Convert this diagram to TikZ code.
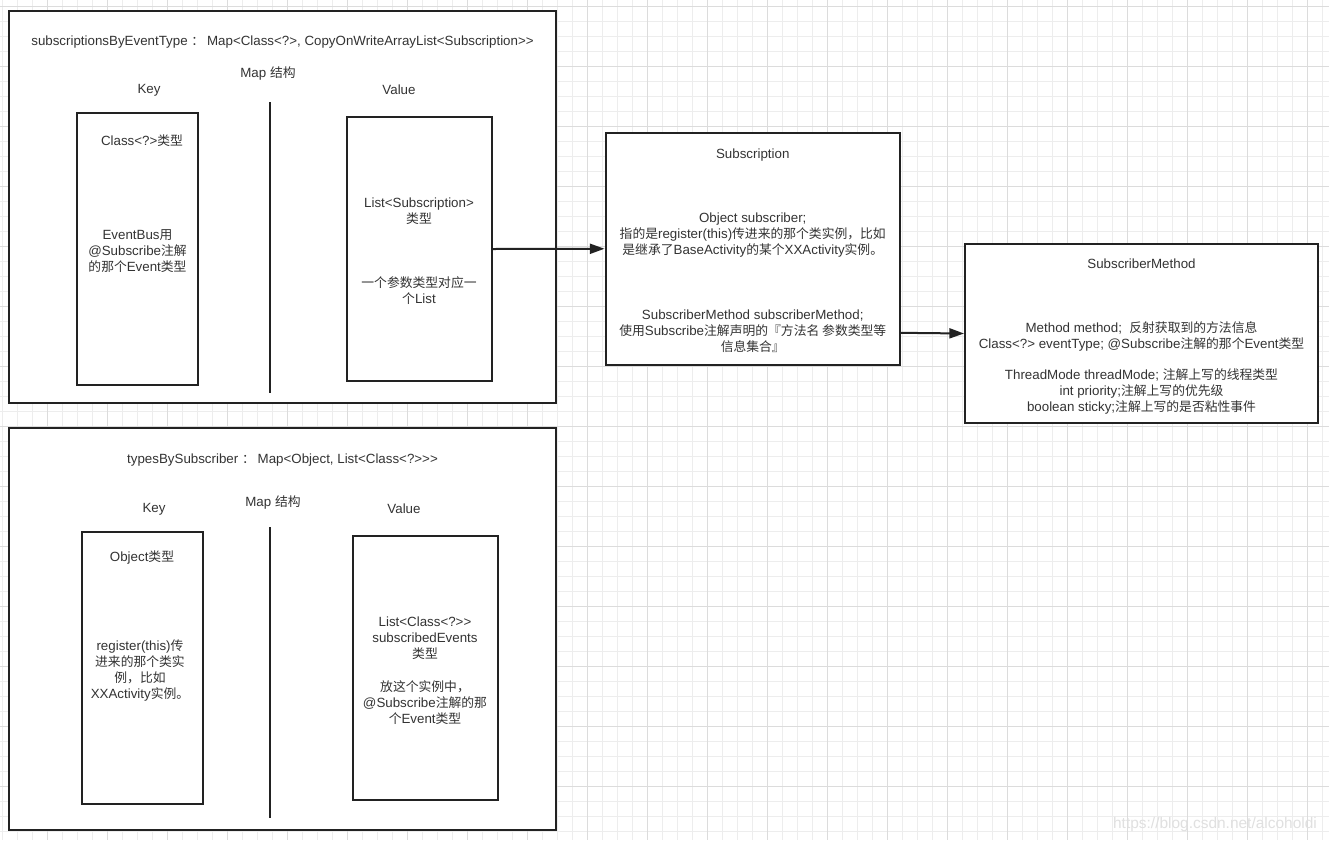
\documentclass[tikz,border=0pt]{standalone}
\usepackage{fontspec}
\setmainfont{Liberation Sans}
\newfontfamily\cjkfont{Noto Sans CJK SC}[Scale=0.96]
\usetikzlibrary{arrows.meta,calc}

% switch to the CJK family for Chinese characters
\newcount\cjkcode
\cjkcode="4E00
\loop \XeTeXcharclass\cjkcode=1 \advance\cjkcode by 1 \ifnum\cjkcode<"A000 \repeat
\XeTeXcharclass`，=1 \XeTeXcharclass`。=1 \XeTeXcharclass`：=1
\XeTeXcharclass`『=1 \XeTeXcharclass`』=1
\XeTeXinterchartokenstate=1
\XeTeXinterchartoks 0 1 = {\cjkfont}
\XeTeXinterchartoks 4095 1 = {\cjkfont}
\XeTeXinterchartoks 1 0 = {\rmfamily}
\XeTeXinterchartoks 4095 0 = {\rmfamily}

\definecolor{txtgray}{HTML}{333333}
\definecolor{linegray}{HTML}{222222}
\definecolor{gridminor}{HTML}{EDEDED}
\definecolor{gridmajor}{HTML}{DCDCDC}
\definecolor{markgray}{HTML}{E0E0E0}

\begin{document}
\begin{tikzpicture}[x=0.75pt,y=-0.75pt,
  every node/.style={font=\fontsize{10}{12}\selectfont, text=txtgray, align=center, inner sep=0pt, yshift=-1.1pt},
  size/.style 2 args={minimum width=#1*0.75pt, minimum height=#2*0.75pt},
  box/.style={draw=linegray, line width=1.5pt, fill=white, rectangle, yshift=1.1pt},
  divider/.style={draw=linegray, line width=1.5pt},
  conn/.style={draw=linegray, line width=1.5pt, -{Triangle[length=11pt,width=7.5pt]}},
  minorline/.style={draw=gridminor, line width=0.75pt},
  majorline/.style={draw=gridmajor, line width=0.75pt}]

  % Background grid
  \useasboundingbox (0,0) rectangle (1329,840);
  \fill[white] (0,0) rectangle (1329,840);
  \foreach \x in {2,17,...,1329} \draw[minorline] (\x,0) -- (\x,840);
  \foreach \y in {6,21,...,840} \draw[minorline] (0,\y) -- (1329,\y);
  \foreach \x in {47,107,...,1329} \draw[majorline] (\x,0) -- (\x,840);
  \foreach \y in {6,66,...,840} \draw[majorline] (0,\y) -- (1329,\y);

  % subscriptionsByEventType
  \node[box, size={547}{392}] (mapA) at (282.5,207) {};
  \node (titleA) at (282.5,41) {subscriptionsByEventType ：  Map<Class<?>, CopyOnWriteArrayList<Subscription>\kern0pt>};
  \node (structA) at (268,72.5) {Map 结构};
  \node (keyLabelA) at (149,88.5) {Key};
  \node (valLabelA) at (399,88.5) {Value};
  \draw[divider] (270,102) -- (270,393);
  \node[box, size={121}{272}] (keyA) at (137.5,249) {};
  \node (keyTypeA) at (142,139.5) {Class<?>类型};
  \node (keyNoteA) at (137.5,249.5) {EventBus用\\@Subscribe注解\\的那个Event类型};
  \node[box, size={144.5}{264}] (valA) at (419.25,249) {};
  \node (valTypeA) at (419,209.5) {List<Subscription>\\类型};
  \node (valNoteA) at (419,289.5) {一个参数类型对应一\\个List};

  % Subscription
  \node[box, size={294.5}{231.5}] (subBox) at (752.75,248.75) {};
  \node (subTitle) at (752.75,153.3) {Subscription};
  \node (subObj) at (752.75,233.7) {Object subscriber;\\指的是register(this)传进来的那个类实例，比如\\是继承了BaseActivity的某个XXActivity实例。};
  \node (subMeth) at (752.75,329.3) {SubscriberMethod subscriberMethod;\\使用Subscribe注解声明的『方法名 参数类型等\\信息集合』};

  % SubscriberMethod
  \node[box, size={353}{179}] (methBox) at (1141.5,333.5) {};
  \node (methTitle) at (1141.5,262.7) {SubscriberMethod};
  \node (methInfo) at (1141.5,334.7) {Method method;~~反射获取到的方法信息\\Class<?> eventType; @Subscribe注解的那个Event类型};
  \node (methAnno) at (1141.5,390.3) {ThreadMode threadMode; 注解上写的线程类型\\int priority;注解上写的优先级\\boolean sticky;注解上写的是否粘性事件};

  % typesBySubscriber
  \node[box, size={547}{401.5}] (mapB) at (282.5,628.75) {};
  \node (titleB) at (282.5,458.3) {typesBySubscriber ：  Map<Object, List<Class<?>\kern0pt>\kern0pt>};
  \node (structB) at (273,500.7) {Map 结构};
  \node (keyLabelB) at (154,507.7) {Key};
  \node (valLabelB) at (404,507.7) {Value};
  \draw[divider] (270,527) -- (270,818);
  \node[box, size={121}{272}] (keyB) at (142.5,668) {};
  \node (keyTypeB) at (142,555.7) {Object类型};
  \node (keyNoteB) at (140,668.7) {register(this)传\\进来的那个类实\\例，比如\\XXActivity实例。};
  \node[box, size={144.5}{264}] (valB) at (425.25,668) {};
  \node (valTypeB) at (425,637) {List<Class<?>\kern0pt>\\subscribedEvents\\类型};
  \node (valNoteB) at (425,701) {放这个实例中，\\@Subscribe注解的那\\个Event类型};

  % Connectors
  \draw[conn] (valA.east) -- (subBox.west);
  \draw[conn] ($(subBox.south east)!0.14!(subBox.north east)$) -- (methBox.west);

  \node[text=markgray, font=\fontsize{11.6}{13}\selectfont] (mark) at (1215,822.7) {https://blog.csdn.net/alcoholdi};
\end{tikzpicture}
\end{document}
